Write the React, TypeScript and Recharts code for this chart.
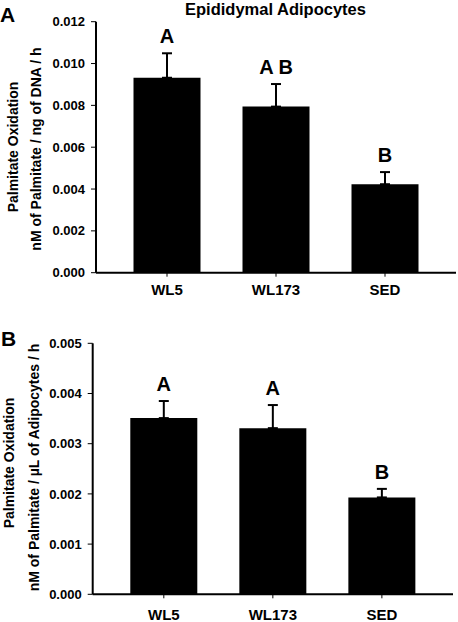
import React from 'react';
import { ComposedChart, Bar, Line, XAxis, YAxis, ErrorBar, LabelList } from 'recharts';

const categories = ['WL5', 'WL173', 'SED'];

// Panel A: nM of Palmitate / ng of DNA / h
const oxidationDNA = [0.00932, 0.00794, 0.00423];
const errorDNA = [0.00117, 0.00108, 0.00058];
const lettersDNA = ['A', 'A B', 'B'];
const ticksDNA = [0, 0.002, 0.004, 0.006, 0.008, 0.01, 0.012];

// Panel B: nM of Palmitate / µL of Adipocytes / h
const oxidationCells = [0.00351, 0.00331, 0.00193];
const errorCells = [0.00034, 0.00046, 0.00017];
const lettersCells = ['A', 'A', 'B'];
const ticksCells = [0, 0.001, 0.002, 0.003, 0.004, 0.005];

const build = (vals: number[], errs: number[], letters: string[]) =>
  categories.map((c, i) => ({
    name: c,
    value: vals[i],
    err: [0, errs[i]],
    top: vals[i] + errs[i],
    sig: letters[i],
  }));

const dataA = build(oxidationDNA, errorDNA, lettersDNA);
const dataB = build(oxidationCells, errorCells, lettersCells);

const FONT = '"Liberation Sans", Arial, Helvetica, sans-serif';

type PanelProps = {
  data: any[];
  ticks: number[];
  max: number;
  top: number;
  marginTop: number;
  marginRight: number;
  yWidth: number;
  xHeight: number;
  xTickMargin: number;
  padX: number;
};

const Panel = ({ data, ticks, max, top, marginTop, marginRight, yWidth, xHeight, xTickMargin, padX }: PanelProps) => (
  <div style={{ position: 'absolute', left: 0, top, width: 458, height: 300 }}>
    <ComposedChart
      width={458}
      height={300}
      data={data}
      margin={{ top: marginTop, right: marginRight, bottom: 0, left: 0 }}
      barCategoryGap={0}
    >
      <XAxis
        dataKey="name"
        height={xHeight}
        padding={{ left: padX, right: padX }}
        axisLine={{ stroke: '#000', strokeWidth: 2 }}
        tickLine={{ stroke: '#000', strokeWidth: 1 }}
        tickSize={4}
        tickMargin={xTickMargin}
        tick={{ fill: '#000', fontSize: 15, fontWeight: 'bold' }}
        interval={0}
      />
      <YAxis
        width={yWidth}
        domain={[0, max]}
        ticks={ticks}
        allowDataOverflow
        tickFormatter={(v: number) => v.toFixed(3)}
        axisLine={{ stroke: '#000', strokeWidth: 2 }}
        tickLine={{ stroke: '#000', strokeWidth: 1 }}
        tickSize={5}
        tickMargin={6}
        tick={{ fill: '#000', fontSize: 13, fontWeight: 'bold' }}
      />
      <Bar dataKey="value" fill="#000" barSize={67} isAnimationActive={false}>
        <ErrorBar dataKey="err" width={5} strokeWidth={2} stroke="#000" direction="y" />
      </Bar>
      <Line
        dataKey="top"
        stroke="none"
        dot={false}
        activeDot={false}
        legendType="none"
        isAnimationActive={false}
      >
        <LabelList
          dataKey="sig"
          position="top"
          offset={10}
          style={{ fill: '#000', fontSize: 20, fontWeight: 'bold' }}
        />
      </Line>
    </ComposedChart>
  </div>
);

export default function App() {
  return (
    <div
      style={{
        position: 'absolute',
        left: 0,
        top: 0,
        width: 458,
        height: 622,
        background: '#fff',
        fontFamily: FONT,
        overflow: 'hidden',
      }}
    >
      <Panel
        data={dataA}
        ticks={ticksDNA}
        max={0.012}
        top={0}
        marginTop={21.7}
        marginRight={2}
        yWidth={96}
        xHeight={27.3}
        xTickMargin={8}
        padX={16.5}
      />
      <Panel
        data={dataB}
        ticks={ticksCells}
        max={0.005}
        top={322}
        marginTop={21.3}
        marginRight={5}
        yWidth={92.7}
        xHeight={27.7}
        xTickMargin={11}
        padX={16.6}
      />
      <svg
        width={458}
        height={622}
        style={{ position: 'absolute', left: 0, top: 0, pointerEvents: 'none' }}
      >
        <g fontWeight="bold" fill="#000" fontFamily={FONT}>
          <text x={275.5} y={14.5} fontSize={16.5} textAnchor="middle">
            Epididymal Adipocytes
          </text>
          <text x={0} y={22} fontSize={21}>A</text>
          <text x={1} y={346} fontSize={21}>B</text>
          <text
            transform="translate(17.5,147) rotate(-90)"
            fontSize={14}
            textAnchor="middle"
          >
            Palmitate Oxidation
          </text>
          <text
            transform="translate(40.5,149) rotate(-90)"
            fontSize={14}
            textAnchor="middle"
          >
            nM of Palmitate / ng of DNA / h
          </text>
          <text
            transform="translate(13.5,463) rotate(-90)"
            fontSize={14}
            textAnchor="middle"
          >
            Palmitate Oxidation
          </text>
          <text
            transform="translate(38.5,467.5) rotate(-90)"
            fontSize={14}
            textAnchor="middle"
          >
            nM of Palmitate / µL of Adipocytes / h
          </text>
        </g>
      </svg>
    </div>
  );
}
